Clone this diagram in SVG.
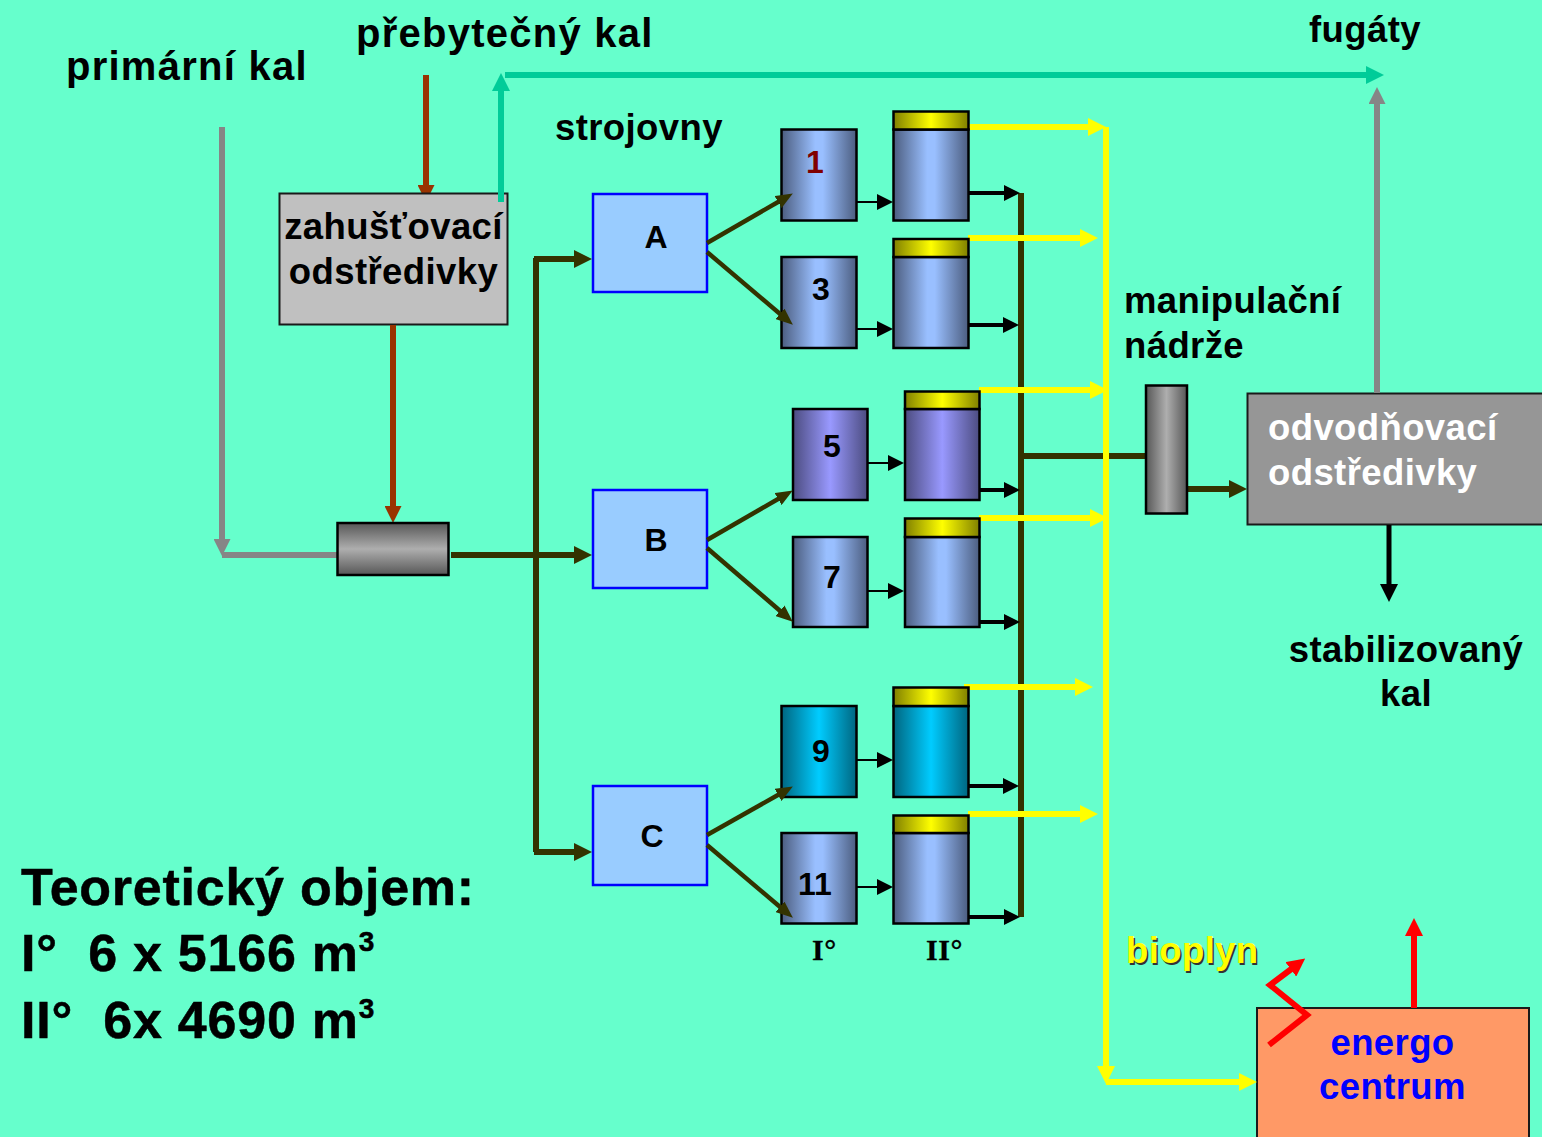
<svg xmlns="http://www.w3.org/2000/svg" width="1542" height="1137" viewBox="0 0 1542 1137">
<style>
text{font-family:"Liberation Sans",Arial,sans-serif;font-weight:bold;fill:#000}
.t38{font-size:40px;letter-spacing:1.25px}.lab{font-size:36.5px;letter-spacing:.4px}.num{font-size:32px}
.big{font-size:52px;letter-spacing:.75px;stroke:#000;stroke-width:.5px}
.ser{font-family:"Liberation Serif","Times New Roman",serif;font-size:30px;letter-spacing:.6px;stroke:#000;stroke-width:.3px}
.tank{stroke:#000;stroke-width:2.500px}
.c{fill:none}
.dk{stroke:#333300}.yl{stroke:#ffff00}.gy{stroke:#868686}.br{stroke:#993300}.gr{stroke:#00cc99}.bk{stroke:#000}.rd{stroke:#ff0000}
.box{stroke:#0000ff;stroke-width:2.5;fill:#99ccff}
.blu{fill:url(#gBlue)}.vio{fill:url(#gViolet)}.cya{fill:url(#gCyan)}.cap{fill:url(#gYellow)}
</style>
<defs>
<linearGradient id="gBlue"><stop offset="0" stop-color="#4c5d7f"/><stop offset=".45" stop-color="#99bfff"/><stop offset=".55" stop-color="#99bfff"/><stop offset="1" stop-color="#4c5d7f"/></linearGradient>
<linearGradient id="gViolet"><stop offset="0" stop-color="#4c4c80"/><stop offset=".5" stop-color="#9999ff"/><stop offset="1" stop-color="#4c4c80"/></linearGradient>
<linearGradient id="gCyan"><stop offset="0" stop-color="#006680"/><stop offset=".5" stop-color="#00ccff"/><stop offset="1" stop-color="#006680"/></linearGradient>
<linearGradient id="gYellow"><stop offset="0" stop-color="#808000"/><stop offset=".5" stop-color="#ffff00"/><stop offset="1" stop-color="#808000"/></linearGradient>
<linearGradient id="gGreyH"><stop offset="0" stop-color="#575757"/><stop offset=".5" stop-color="#aeaeae"/><stop offset="1" stop-color="#575757"/></linearGradient>
<linearGradient id="gGreyV" x2="0" y2="1"><stop offset="0" stop-color="#575757"/><stop offset=".5" stop-color="#aeaeae"/><stop offset="1" stop-color="#575757"/></linearGradient>
<marker id="mDk" markerUnits="userSpaceOnUse" markerWidth="18" markerHeight="18" refX="9" refY="9" orient="auto"><path d="M0 0L18 9L0 18Z" fill="#333300"/></marker>
<marker id="mDs" markerUnits="userSpaceOnUse" markerWidth="17" markerHeight="14" refX="8" refY="7" orient="auto"><path d="M0 0L17 7L0 14Z" fill="#333300"/></marker>
<marker id="mYl" markerUnits="userSpaceOnUse" markerWidth="18" markerHeight="18" refX="9" refY="9" orient="auto"><path d="M0 0L18 9L0 18Z" fill="#ffff00"/></marker>
<marker id="mGy" markerUnits="userSpaceOnUse" markerWidth="17" markerHeight="17" refX="8" refY="8.5" orient="auto"><path d="M0 0L17 8.5L0 17Z" fill="#868686"/></marker>
<marker id="mBr" markerUnits="userSpaceOnUse" markerWidth="17" markerHeight="17" refX="8" refY="8.5" orient="auto"><path d="M0 0L17 8.5L0 17Z" fill="#993300"/></marker>
<marker id="mGr" markerUnits="userSpaceOnUse" markerWidth="18" markerHeight="18" refX="9" refY="9" orient="auto"><path d="M0 0L18 9L0 18Z" fill="#00cc99"/></marker>
<marker id="mBk" markerUnits="userSpaceOnUse" markerWidth="16" markerHeight="16" refX="8" refY="8" orient="auto"><path d="M0 0L16 8L0 16Z" fill="#000"/></marker>
<marker id="mBb" markerUnits="userSpaceOnUse" markerWidth="18" markerHeight="18" refX="9" refY="9" orient="auto"><path d="M0 0L18 9L0 18Z" fill="#000"/></marker>
<marker id="mRd" markerUnits="userSpaceOnUse" markerWidth="18" markerHeight="18" refX="9" refY="9" orient="auto"><path d="M0 0L18 9L0 18Z" fill="#ff0000"/></marker>
</defs>
<rect id="background" width="1542" height="1137" fill="#66ffcc"/>

<g id="connectors-back" class="c">
<path class="br" stroke-width="6" marker-end="url(#mBr)" d="M426 75V193"/>
</g>

<g id="node-zahustovaci"><rect x="279.500" y="193.500" width="228" height="131" fill="#c0c0c0" stroke="#1a1a1a" stroke-width="2"/>
<text class="lab" x="393.500" y="239" text-anchor="middle">zahušťovací</text><text class="lab" x="393.500" y="284" text-anchor="middle">odstředivky</text></g>
<g id="node-zahustovaci-out" class="c"><path class="gr" stroke-width="6" marker-end="url(#mGr)" d="M501 202V82"/></g>
<g id="node-odvodnovaci"><rect x="1247.500" y="393.500" width="300" height="131" fill="#969696" stroke="#1a1a1a" stroke-width="2"/>
<text class="lab" x="1268" y="440" style="fill:#fff">odvodňovací</text><text class="lab" x="1268" y="485" style="fill:#fff">odstředivky</text></g>
<g id="node-energo"><rect x="1257" y="1008" width="272" height="140" fill="#ff9966" stroke="#1a1a1a" stroke-width="2"/>
<text class="lab" x="1392.500" y="1055" text-anchor="middle" style="fill:#0000ff">energo</text><text class="lab" x="1392.500" y="1099" text-anchor="middle" style="fill:#0000ff">centrum</text></g>

<g id="connectors" class="c">
<path class="gr" stroke-width="6" marker-end="url(#mGr)" d="M505 75H1375"/>
<path class="gy" stroke-width="6" d="M222 555H337"/>
<path class="gy" stroke-width="6" marker-end="url(#mGy)" d="M222 127V547"/>
<path class="br" stroke-width="6" marker-end="url(#mBr)" d="M393 325V514"/>
<path class="gy" stroke-width="6" marker-end="url(#mGy)" d="M1377 393V96"/>
<path class="dk" stroke-width="6" d="M536 258V852"/>
<path class="dk" stroke-width="6" marker-end="url(#mDk)" d="M534 259H583"/>
<path class="dk" stroke-width="6" marker-end="url(#mDk)" d="M451 555H583"/>
<path class="dk" stroke-width="6" marker-end="url(#mDk)" d="M534 852H583"/>
<path class="dk" stroke-width="6" d="M1021 193V917"/>
<path class="dk" stroke-width="6" d="M1021 456H1146"/>
<path class="dk" stroke-width="6" marker-end="url(#mDk)" d="M1187 489H1238"/>
<path class="bk" stroke-width="2" marker-end="url(#mBk)" d="M856 202H885"/>
<path class="bk" stroke-width="2" marker-end="url(#mBk)" d="M856 329H885"/>
<path class="bk" stroke-width="2" marker-end="url(#mBk)" d="M867 463H896"/>
<path class="bk" stroke-width="2" marker-end="url(#mBk)" d="M867 591H896"/>
<path class="bk" stroke-width="2" marker-end="url(#mBk)" d="M856 760H885"/>
<path class="bk" stroke-width="2" marker-end="url(#mBk)" d="M856 887H885"/>
<path class="bk" stroke-width="4" marker-end="url(#mBk)" d="M968 193H1012"/>
<path class="bk" stroke-width="4" marker-end="url(#mBk)" d="M968 325H1011"/>
<path class="bk" stroke-width="4" marker-end="url(#mBk)" d="M979 490H1012"/>
<path class="bk" stroke-width="4" marker-end="url(#mBk)" d="M979 622H1012"/>
<path class="bk" stroke-width="4" marker-end="url(#mBk)" d="M968 786H1011"/>
<path class="bk" stroke-width="4" marker-end="url(#mBk)" d="M968 917H1012"/>
<path class="bk" stroke-width="5" marker-end="url(#mBb)" d="M1389 525V593"/>
<path class="yl" stroke-width="6" d="M1106 127V1074"/>
<path class="yl" stroke-width="6" marker-end="url(#mYl)" d="M1106 1074V1075"/>
<path class="yl" stroke-width="6" marker-end="url(#mYl)" d="M1106 1082H1248"/>
<path class="yl" stroke-width="6" marker-end="url(#mYl)" d="M969 127H1097"/>
<path class="yl" stroke-width="6" marker-end="url(#mYl)" d="M968 238H1089"/>
<path class="yl" stroke-width="6" marker-end="url(#mYl)" d="M979 390H1099"/>
<path class="yl" stroke-width="6" marker-end="url(#mYl)" d="M979 518H1099"/>
<path class="yl" stroke-width="6" marker-end="url(#mYl)" d="M964 687H1084"/>
<path class="yl" stroke-width="6" marker-end="url(#mYl)" d="M968 814H1089"/>
<path class="rd" stroke-width="6" marker-end="url(#mRd)" d="M1269 1045L1307 1015L1270 985L1298 964"/>
<path class="rd" stroke-width="6" marker-end="url(#mRd)" d="M1414 1008V927"/>
</g>

<g id="node-mix"><rect class="tank" x="337.500" y="523" width="111" height="52" fill="url(#gGreyV)"/></g>
<g id="node-A"><rect class="box" x="593" y="194" width="114" height="98"/><text class="num" x="656" y="248" text-anchor="middle">A</text></g>
<g id="node-B"><rect class="box" x="593" y="490" width="114" height="98"/><text class="num" x="656" y="551" text-anchor="middle">B</text></g>
<g id="node-C"><rect class="box" x="593" y="786" width="114" height="99"/><text class="num" x="652" y="847" text-anchor="middle">C</text></g>

<g id="tank-1"><rect class="tank blu" x="781.500" y="129.500" width="75" height="91"/><text class="num" x="815" y="173" text-anchor="middle" style="fill:#800000">1</text></g>
<g id="tank-3"><rect class="tank blu" x="781.500" y="257" width="75" height="91"/><text class="num" x="821" y="300" text-anchor="middle">3</text></g>
<g id="tank-5"><rect class="tank vio" x="793" y="409" width="74.500" height="91"/><text class="num" x="832" y="457" text-anchor="middle">5</text></g>
<g id="tank-7"><rect class="tank blu" x="793" y="537" width="74.500" height="90"/><text class="num" x="832" y="588" text-anchor="middle">7</text></g>
<g id="tank-9"><rect class="tank cya" x="781.500" y="706" width="75" height="91"/><text class="num" x="821" y="762" text-anchor="middle">9</text></g>
<g id="tank-11"><rect class="tank blu" x="781.500" y="833" width="75" height="90.500"/><text class="num" x="815" y="895" text-anchor="middle">11</text></g>

<g id="tank-2"><rect class="tank blu" x="893.500" y="129.500" width="75" height="91"/><rect class="tank cap" x="893.500" y="111.500" width="75" height="18"/></g>
<g id="tank-4"><rect class="tank blu" x="893.500" y="257" width="75" height="91"/><rect class="tank cap" x="893.500" y="239" width="75" height="18"/></g>
<g id="tank-6"><rect class="tank vio" x="905" y="409" width="74.500" height="91"/><rect class="tank cap" x="905" y="391.500" width="74.500" height="17.500"/></g>
<g id="tank-8"><rect class="tank blu" x="905" y="537" width="74.500" height="90"/><rect class="tank cap" x="905" y="518.500" width="74.500" height="18.500"/></g>
<g id="tank-10"><rect class="tank cya" x="893.500" y="706" width="75" height="91"/><rect class="tank cap" x="893.500" y="687.500" width="75" height="18.500"/></g>
<g id="tank-12"><rect class="tank blu" x="893.500" y="833" width="75" height="90.500"/><rect class="tank cap" x="893.500" y="815.500" width="75" height="17.500"/></g>
<g id="node-manipulacni"><rect class="tank" x="1146" y="385.500" width="41" height="128" fill="url(#gGreyH)"/></g>

<g id="connectors-front" class="c">
<path class="dk" stroke-width="4.500" marker-end="url(#mDs)" d="M707 243L785 198"/>
<path class="dk" stroke-width="4.500" marker-end="url(#mDs)" d="M707 252L786 319"/>
<path class="dk" stroke-width="4.500" marker-end="url(#mDs)" d="M707 540L785 495"/>
<path class="dk" stroke-width="4.500" marker-end="url(#mDs)" d="M707 548L786 616"/>
<path class="dk" stroke-width="4.500" marker-end="url(#mDs)" d="M707 835L785 791"/>
<path class="dk" stroke-width="4.500" marker-end="url(#mDs)" d="M707 845L786 912"/>
</g>

<g id="labels">
<text class="t38" x="66" y="80">primární kal</text>
<text class="t38" x="356" y="47">přebytečný kal</text>
<text class="lab" x="1309" y="42">fugáty</text>
<text class="lab" x="555" y="140">strojovny</text>
<text class="lab" x="1124" y="313">manipulační</text>
<text class="lab" x="1124" y="358">nádrže</text>
<text class="lab" x="1406" y="662" text-anchor="middle">stabilizovaný</text>
<text class="lab" x="1406" y="706" text-anchor="middle">kal</text>
<text class="ser" x="812" y="960">I°</text>
<text class="ser" x="926" y="960">II°</text>
<text class="lab" x="1127.500" y="965" style="fill:#333">bioplyn</text>
<text class="lab" x="1126" y="963" style="fill:#ffff00">bioplyn</text>
<g id="volume">
<text class="big" x="21" y="905">Teoretický objem:</text>
<text class="big" x="21" y="971" xml:space="preserve">I°  6 x 5166 m<tspan font-size="28" dy="-20">3</tspan></text>
<text class="big" x="21" y="1038" xml:space="preserve">II°  6x 4690 m<tspan font-size="28" dy="-20">3</tspan></text>
</g>
</g>
</svg>
